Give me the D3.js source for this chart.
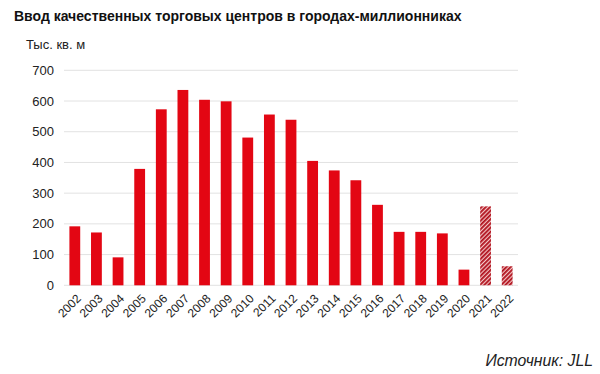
<!DOCTYPE html>
<html><head><meta charset="utf-8">
<script src="https://cdn.jsdelivr.net/npm/d3@7"></script>
<style>body{margin:0;background:#fff;}svg{display:block;font-family:"Liberation Sans",Arial,sans-serif;}</style>
</head><body><svg id="c" width="600" height="374"></svg>
<script>
const years = ["2002","2003","2004","2005","2006","2007","2008","2009","2010","2011","2012","2013","2014","2015","2016","2017","2018","2019","2020","2021","2022"];
const values = [192,172,91,379,573,636,604,599,481,556,539,405,374,342,262,174,174,169,51,257,62];
const forecast = [false,false,false,false,false,false,false,false,false,false,false,false,false,false,false,false,false,false,false,true,true];
const yTicks = [0,100,200,300,400,500,600,700];
const title = "Ввод качественных торговых центров в городах-миллионниках";
const unit = "Тыс. кв. м";
const source = "Источник: JLL";

const svg = d3.select("#c");
const red = "#e30613";
const defs = svg.append("defs");
const pat = defs.append("pattern").attr("id","hatch").attr("patternUnits","userSpaceOnUse")
  .attr("width",3).attr("height",3).attr("patternTransform","rotate(45)");
pat.append("rect").attr("width",3).attr("height",3).attr("fill","#f3c6c6");
pat.append("rect").attr("width",1.8).attr("height",3).attr("fill","#b0101c");

const x = d3.scaleBand().domain(years).range([64,518]).paddingInner(0.5).paddingOuter(0.25);
const y = d3.scaleLinear().domain([0,700]).range([285.3,70.3]);

svg.append("text").attr("x",14).attr("y",21).attr("font-size",14).attr("font-weight","bold").attr("fill","#111").text(title);
svg.append("text").attr("x",26).attr("y",49).attr("font-size",13).attr("fill","#222").text(unit);

const g = svg.append("g");
g.selectAll("line.grid").data(yTicks).join("line")
  .attr("x1",64).attr("x2",518).attr("y1",d=>y(d)).attr("y2",d=>y(d))
  .attr("stroke","#e2e2e2").attr("stroke-width",1);
g.selectAll("text.yt").data(yTicks).join("text")
  .attr("x",54).attr("y",d=>y(d)+4.5).attr("text-anchor","end").attr("font-size",13).attr("fill","#222").text(d=>d);

g.selectAll("rect.bar").data(years).join("rect")
  .attr("x",d=>x(d)).attr("width",x.bandwidth())
  .attr("y",(d,i)=>y(values[i])).attr("height",(d,i)=>y(0)-y(values[i]))
  .attr("fill",(d,i)=>forecast[i]?"url(#hatch)":red);

g.selectAll("text.xt").data(years).join("text")
  .attr("transform",d=>`translate(${x(d)+x.bandwidth()/2+4},${y(0)+11}) rotate(-45)`)
  .attr("text-anchor","end").attr("dy","0.35em").attr("font-size",12).attr("fill","#222").text(d=>d);

svg.append("text").attr("x",593).attr("y",366).attr("text-anchor","end").attr("font-size",15.8).attr("font-style","italic").attr("fill","#222").text(source);
</script></body></html>
